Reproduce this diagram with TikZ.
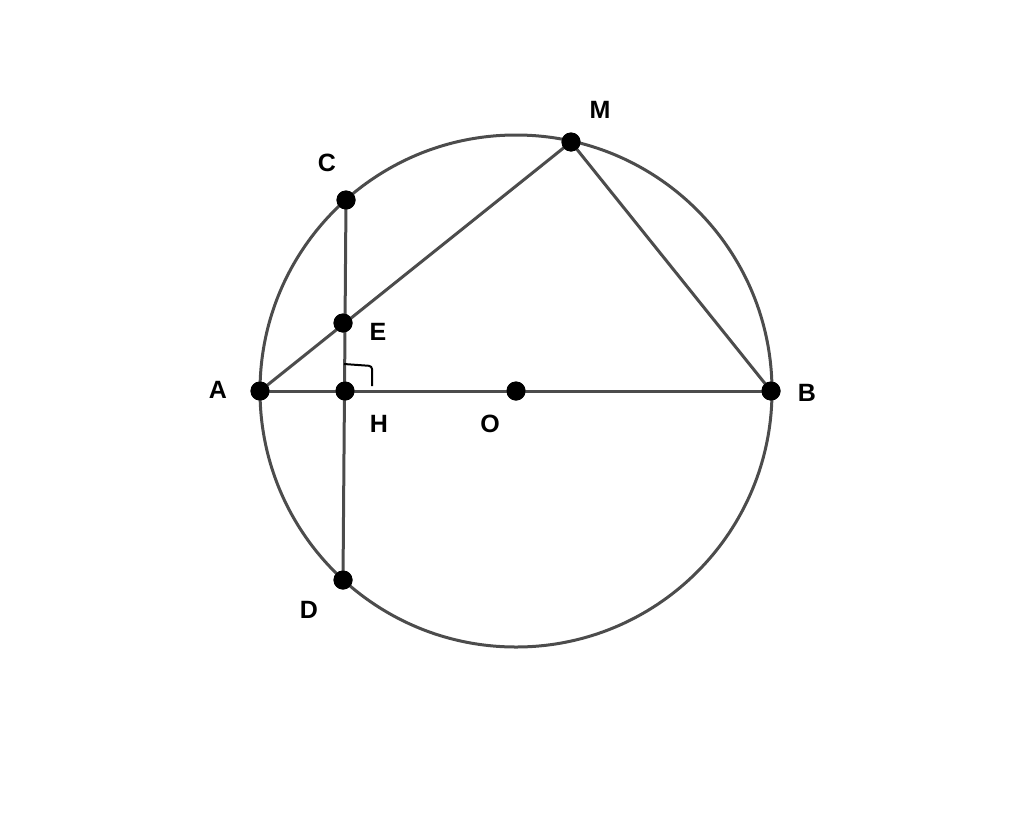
\documentclass[tikz,border=0pt]{standalone}
\usepackage{fontspec}
\setmainfont{Liberation Sans}
\begin{document}
\begin{tikzpicture}[x=1pt,y=-1pt,
  geo/.style={draw=black!70, line width=3pt},
  pt/.style={circle, fill=black, inner sep=0pt, minimum size=19pt},
  lbl/.style={font=\fontsize{25}{25}\selectfont\bfseries, inner sep=0pt}]
\useasboundingbox (0,0) rectangle (1024,835);
\node[pt] (A) at (260,391) {};
\node[pt] (B) at (771,391) {};
\node[pt] (O) at (516,391) {};
\node[pt] (H) at (345,391) {};
\node[pt] (C) at (346,200) {};
\node[pt] (D) at (343,580) {};
\node[pt] (E) at (343,323) {};
\node[pt] (M) at (571,142) {};
\draw[geo] (O.center) circle (256);
\draw[geo] (A.center) -- (B.center);
\draw[geo] (C.center) -- (D.center);
\draw[geo] (A.center) -- (M.center) -- (B.center);
\draw[black, line width=2pt, rounded corners=3pt] (344,364) -- (372,366) -- (372,386);
\node[pt] at (A) {};
\node[pt] at (B) {};
\node[pt] at (O) {};
\node[pt] at (H) {};
\node[pt] at (C) {};
\node[pt] at (D) {};
\node[pt] at (E) {};
\node[pt] at (M) {};
\node[lbl] (lA) at (218,390) {A};
\node[lbl] (lB) at (807,393) {B};
\node[lbl] (lC) at (327,163) {C};
\node[lbl] (lD) at (309,610) {D};
\node[lbl] (lE) at (378,332) {E};
\node[lbl] (lH) at (379,424) {H};
\node[lbl] (lO) at (490,424) {O};
\node[lbl] (lM) at (600,110) {M};
\end{tikzpicture}
\end{document}
